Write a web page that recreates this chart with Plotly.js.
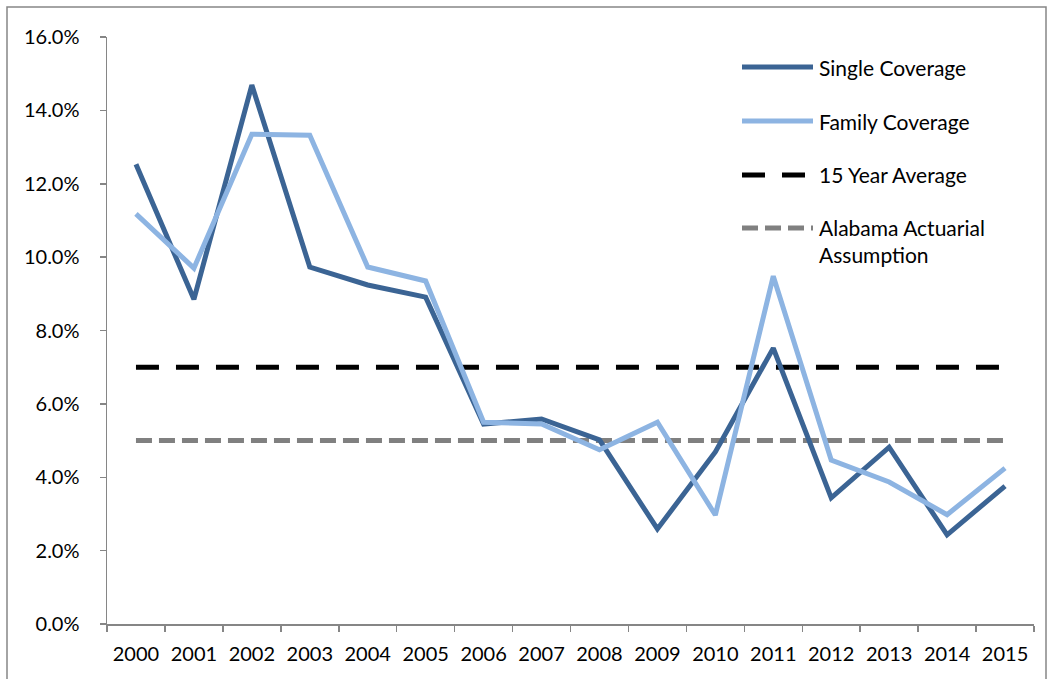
<!DOCTYPE html>
<html>
<head>
<meta charset="utf-8">
<script src="https://cdn.plot.ly/plotly-3.0.1.min.js"></script>
<style>
  html, body { margin: 0; padding: 0; background: #ffffff; }
  #chart { width: 1052px; height: 679px; }
</style>
</head>
<body>
<div id="chart"></div>
<script>
// Annual premium growth, single vs. family coverage
const years = ["2000","2001","2002","2003","2004","2005","2006","2007",
               "2008","2009","2010","2011","2012","2013","2014","2015"];
const singleCoverage = [12.53, 8.85, 14.69, 9.73, 9.24, 8.91, 5.45, 5.59,
                        5.02, 2.59, 4.69, 7.52, 3.44, 4.82, 2.43, 3.76];
const familyCoverage = [11.18, 9.70, 13.35, 13.32, 9.73, 9.35, 5.50, 5.45,
                        4.75, 5.50, 2.97, 9.48, 4.47, 3.87, 2.98, 4.25];
const fifteenYearAverage = [7.0, 7.0, 7.0, 7.0, 7.0, 7.0, 7.0, 7.0,
                            7.0, 7.0, 7.0, 7.0, 7.0, 7.0, 7.0, 7.0];
const actuarialAssumption = [5.0, 5.0, 5.0, 5.0, 5.0, 5.0, 5.0, 5.0,
                             5.0, 5.0, 5.0, 5.0, 5.0, 5.0, 5.0, 5.0];
const yTickValues = [0, 2, 4, 6, 8, 10, 12, 14, 16];
const yTickLabels = ["0.0%", "2.0%", "4.0%", "6.0%", "8.0%",
                     "10.0%", "12.0%", "14.0%", "16.0%"];

const FONT = "Lato, 'Open Sans', sans-serif";
const AXIS_GREY = "#868686";

const series = [
  { name: "Single Coverage", y: singleCoverage, color: "#3B6494", dash: "solid" },
  { name: "Family Coverage", y: familyCoverage, color: "#8DB4E2", dash: "solid" },
  { name: "15 Year Average", y: fifteenYearAverage, color: "#000000", dash: "23px,17px" },
  { name: "Alabama Actuarial<br>Assumption", y: actuarialAssumption, color: "#808080", dash: "16px,7px" }
];

// Draw the flat reference lines first so the coverage lines sit on top
const drawOrder = [2, 3, 0, 1];
const traces = drawOrder.map(i => ({
  type: "scatter",
  mode: "lines",
  x: years,
  y: series[i].y,
  name: series[i].name,
  line: { color: series[i].color, width: 5, dash: series[i].dash },
  hoverinfo: "x+y",
  showlegend: false
}));

// Hand-built legend: sample line plus label per series
const legendRowsPx = [67, 121, 175, 228];
const plotLeft = 107, plotWidth = 927, plotBottom = 624, plotHeight = 587;
const px2x = px => (px - plotLeft) / plotWidth;
const px2y = py => (plotBottom - py) / plotHeight;

const shapes = [
  // outer chart frame
  { type: "rect", xref: "paper", yref: "paper",
    x0: px2x(7), x1: px2x(1046), y0: px2y(700), y1: px2y(7),
    line: { color: AXIS_GREY, width: 1.5 }, fillcolor: "rgba(0,0,0,0)", layer: "below" }
];
const annotations = [];
series.forEach((s, i) => {
  shapes.push({
    type: "line", xref: "paper", yref: "paper",
    x0: px2x(742), x1: px2x(813), y0: px2y(legendRowsPx[i]), y1: px2y(legendRowsPx[i]),
    line: { color: s.color, width: 5, dash: s.dash }
  });
  annotations.push({
    xref: "paper", yref: "paper",
    x: px2x(817), y: px2y(legendRowsPx[i]),
    xanchor: "left", yanchor: i === 3 ? "top" : "middle",
    yshift: i === 3 ? 15 : 0,
    text: s.name, showarrow: false, align: "left",
    font: { family: FONT, size: 21, color: "#000000" }
  });
});

const layout = {
  width: 1052,
  height: 679,
  margin: { l: plotLeft, r: 1052 - plotLeft - plotWidth, t: 37, b: 679 - plotBottom },
  paper_bgcolor: "#ffffff",
  plot_bgcolor: "#ffffff",
  font: { family: FONT, size: 20, color: "#000000" },
  showlegend: false,
  xaxis: {
    type: "category",
    range: [-0.5, 15.5],
    showgrid: false,
    zeroline: false,
    showline: true,
    linecolor: AXIS_GREY,
    linewidth: 1.5,
    ticks: "outside",
    tickson: "boundaries",
    ticklen: 6,
    tickcolor: AXIS_GREY,
    tickwidth: 1.5,
    ticklabelstandoff: 11,
    tickfont: { family: FONT, size: 20, color: "#000000" },
    fixedrange: true
  },
  yaxis: {
    range: [0, 16],
    tickmode: "array",
    tickvals: yTickValues,
    ticktext: yTickLabels,
    showgrid: false,
    zeroline: false,
    showline: true,
    linecolor: AXIS_GREY,
    linewidth: 1.5,
    ticks: "outside",
    ticklen: 6,
    tickcolor: AXIS_GREY,
    tickwidth: 1.5,
    ticklabelstandoff: 16,
    tickfont: { family: FONT, size: 20, color: "#000000" },
    fixedrange: true
  },
  shapes: shapes,
  annotations: annotations
};

Plotly.newPlot("chart", traces, layout, { displayModeBar: false, staticPlot: true });
</script>
</body>
</html>
